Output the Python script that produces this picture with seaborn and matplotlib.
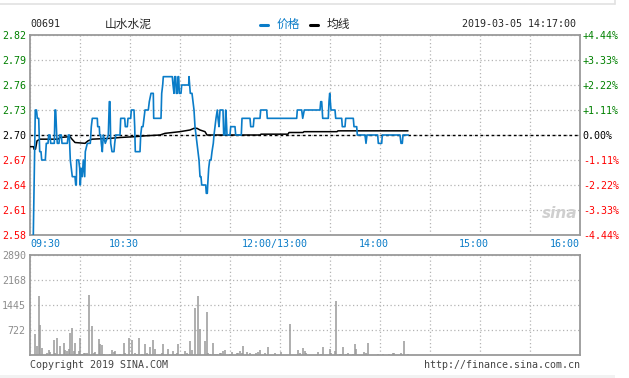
import seaborn as sns
import pandas as pd
import matplotlib.pyplot as plt
import numpy as np
from matplotlib.ticker import MultipleLocator
from matplotlib.lines import Line2D

# --- data (x = time slot, 550 slots across) ---
stock_code = "00691"
stock_name = "山水水泥"
stamp = "2019-03-05 14:17:00"
prev_close = 2.70
price_ticks = [2.58, 2.61, 2.64, 2.67, 2.70, 2.73, 2.76, 2.79, 2.82]
vol_ticks = [722, 1445, 2168, 2890]
time_labels = ["09:30", "10:30", "12:00/13:00", "14:00", "15:00", "16:00"]
time_label_pos = [0, 94, 245, 344, 444, 550]

price_t = [3.3, 5.3, 6.5, 7.3, 8.7, 9.7, 11.0, 11.7, 15.3, 16.3, 18.0, 18.7, 20.0, 20.7, 22.3,
           24.3, 25.0, 25.7, 26.7, 27.3, 29.0, 29.7, 31.3, 32.0, 37.3, 38.3, 39.3, 40.3, 41.3,
           42.3, 45.0, 45.7, 46.3, 46.7, 48.7, 49.7, 50.3, 51.3, 52.3, 53.3, 54.7, 55.3, 57.3,
           60.3, 61.3, 62.3, 67.3, 67.7, 69.3, 69.7, 70.7, 71.3, 72.3, 73.3, 75.3, 78.3, 79.3,
           80.0, 80.7, 82.0, 84.0, 84.7, 85.7, 90.0, 90.7, 94.7, 95.3, 97.3, 98.0, 100.7, 101.3,
           104.0, 104.7, 105.3, 110.0, 110.7, 111.7, 113.0, 114.0, 115.0, 118.3, 119.3, 121.0,
           123.3, 123.7, 131.0, 131.7, 132.7, 133.3, 142.3, 143.0, 144.0, 144.7, 145.7, 146.3,
           147.3, 148.0, 148.7, 149.3, 151.0, 151.7, 158.7, 159.0, 159.7, 160.3, 162.0, 163.0,
           164.0, 165.0, 166.0, 167.0, 168.0, 169.0, 170.0, 171.0, 171.7, 175.7, 176.3, 177.3,
           177.7, 178.7, 179.7, 181.0, 182.0, 183.3, 184.0, 185.0, 186.0, 187.3, 188.0, 189.0,
           190.0, 193.0, 193.7, 195.0, 195.7, 196.3, 197.0, 200.0, 200.7, 205.0, 205.7, 211.3,
           212.0, 220.0, 220.7, 223.3, 224.0, 230.0, 230.7, 236.7, 237.3, 266.7, 267.3, 271.7,
           272.7, 274.3, 290.0, 290.7, 291.7, 292.7, 298.3, 299.0, 299.7, 300.3, 301.0, 305.0,
           305.7, 311.7, 312.3, 315.0, 315.7, 323.3, 324.0, 326.7, 327.3, 335.0, 336.0, 337.0,
           347.7, 348.3, 351.7, 352.3, 370.0, 371.0, 372.3, 373.0, 378.3]
price_v = [2.58, 2.73, 2.73, 2.72, 2.72, 2.68, 2.68, 2.67, 2.67, 2.69, 2.69, 2.70, 2.70, 2.69, 2.69,
           2.69, 2.73, 2.73, 2.70, 2.69, 2.69, 2.70, 2.70, 2.69, 2.69, 2.70, 2.70, 2.67, 2.66,
           2.65, 2.65, 2.64, 2.64, 2.67, 2.67, 2.66, 2.64, 2.66, 2.65, 2.67, 2.65, 2.68, 2.69,
           2.69, 2.71, 2.72, 2.72, 2.71, 2.71, 2.70, 2.70, 2.69, 2.68, 2.70, 2.69, 2.70, 2.74,
           2.74, 2.69, 2.68, 2.68, 2.69, 2.70, 2.70, 2.72, 2.72, 2.71, 2.71, 2.72, 2.72, 2.73,
           2.73, 2.71, 2.68, 2.68, 2.70, 2.71, 2.71, 2.72, 2.73, 2.73, 2.74, 2.75,
           2.75, 2.72, 2.72, 2.75, 2.76, 2.77, 2.77, 2.76, 2.75, 2.77, 2.77, 2.75,
           2.75, 2.77, 2.77, 2.75, 2.75, 2.76, 2.76, 2.77, 2.76, 2.75, 2.75, 2.74,
           2.73, 2.71, 2.70, 2.69, 2.68, 2.67, 2.65, 2.65, 2.64, 2.64, 2.63, 2.63,
           2.64, 2.66, 2.67, 2.67, 2.68, 2.69, 2.70, 2.71, 2.72, 2.73, 2.72, 2.71,
           2.73, 2.73, 2.70, 2.70, 2.73, 2.72, 2.70, 2.70, 2.71, 2.71, 2.70, 2.70,
           2.72, 2.72, 2.71, 2.71, 2.72, 2.72, 2.73, 2.73, 2.72, 2.72, 2.73, 2.73,
           2.72, 2.73, 2.73, 2.74, 2.74, 2.72, 2.72, 2.74, 2.75, 2.74, 2.73, 2.73,
           2.72, 2.72, 2.71, 2.71, 2.72, 2.72, 2.71, 2.71, 2.70, 2.70, 2.69, 2.70,
           2.70, 2.69, 2.69, 2.70, 2.70, 2.69, 2.69, 2.70, 2.70]

avg_t = [0, 3.5, 4, 5.5, 7, 10, 28, 30, 40, 42, 45, 55, 58, 62, 80, 90, 105, 115, 130, 135,
         150, 160, 164, 167, 170, 175, 177, 230, 231, 258, 259, 273, 274, 307, 308, 378]
avg_v = [2.686, 2.686, 2.683, 2.683, 2.693, 2.695, 2.695, 2.697, 2.698, 2.695, 2.691, 2.690,
         2.693, 2.695, 2.696, 2.697, 2.698, 2.699, 2.700, 2.702, 2.704, 2.706, 2.708, 2.708,
         2.706, 2.704, 2.700, 2.700, 2.701, 2.701, 2.703, 2.703, 2.704, 2.704, 2.705, 2.705]

vol_t = [5.3, 7.3, 9.3, 10.3, 12.3, 17.3, 19.3, 20.3, 24.3, 25.3, 27.3, 30.3, 34.3, 35.3, 37.3,
         39.3, 40.3, 42.3, 44.3, 45.3, 47.3, 49.3, 50.3, 52.3, 54.3, 55.3, 57.3, 59.3, 62.3,
         64.3, 65.3, 69.3, 70.3, 72.3, 74.3, 80.3, 82.3, 84.3, 85.3, 90.3, 94.3, 95.3, 99.3,
         102.3, 105.3, 107.3, 109.3, 112.3, 115.3, 117.3, 120.3, 123.3, 125.3, 132.3, 133.3,
         138.3, 143.3, 145.3, 147.3, 148.3, 152.3, 155.3, 157.3, 158.3, 160.3, 162.3, 165.3,
         168.0, 170.3, 175.3, 177.3, 178.3, 180.3, 183.3, 185.3, 187.3, 190.3, 191.3, 193.3,
         195.3, 200.3, 202.3, 207.3, 208.3, 210.3, 212.3, 213.3, 217.3, 220.3, 226.3, 228.3,
         230.3, 235.3, 238.3, 245.3, 251.3, 260.3, 268.3, 270.3, 273.3, 275.3, 276.3, 288.3,
         291.3, 293.3, 300.3, 301.3, 305.3, 306.3, 310.3, 311.3, 313.3, 316.3, 318.3, 323.3,
         325.3, 326.3, 334.3, 336.3, 338.3, 348.3, 353.3, 359.3, 363.3, 364.3, 371.3, 374.3,
         378.3]
vol_v = [607, 260, 1705, 867, 202, 50, 145, 96, 434, 50, 491, 260, 347, 145, 116,
         173, 636, 780, 116, 347, 30, 116, 491, 30, 58, 58, 58, 1734, 838,
         58, 87, 462, 318, 289, 30, 30, 145, 87, 116, 30, 347, 58, 491,
         434, 58, 30, 491, 30, 318, 58, 231, 434, 173, 58, 318,
         173, 116, 30, 58, 318, 30, 116, 58, 30, 405, 145, 1358,
         1705, 751, 405, 1243, 58, 30, 347, 30, 30, 58, 58, 116,
         145, 30, 87, 58, 58, 116, 58, 260, 87, 58, 58, 87,
         145, 58, 231, 58, 87, 896, 145, 58, 202, 116, 58, 87,
         30, 231, 173, 58, 116, 1561, 30, 30, 231, 30, 58, 30,
         318, 173, 87, 58, 347, 30, 30, 30, 58, 58, 58, 405,
         30]

price_df = pd.DataFrame({"t": price_t, "price": price_v})
avg_df = pd.DataFrame({"t": avg_t, "avg": avg_v})

# colours
BLUE = "#0a7cc8"
GREEN = "#008000"
RED = "#ff0000"
FRAME = "#9a9a9a"
GRID = "#b4b4b4"
MONO = "DejaVu Sans Mono"
CJK = ["Noto Sans CJK SC", "DejaVu Sans"]
FS = 7.2

sns.set_style("white")
plt.rcParams["font.family"] = [MONO, "Noto Sans CJK SC"]

W, H = 629, 378
fig = plt.figure(figsize=(W / 100, H / 100), dpi=100)
ax = fig.add_axes([30 / W, 1 - 235 / H, 550 / W, 200 / H])
axv = fig.add_axes([30 / W, 1 - 355 / H, 550 / W, 100 / H])

grid_kw = dict(color=GRID, lw=0.9, linestyle=(0, (1, 2)))

# ---- price panel ----
for a in (ax, axv):
    a.set_xlim(0, 550)
    a.xaxis.set_major_locator(MultipleLocator(50))
    a.grid(True, **grid_kw)
    a.set_axisbelow(True)
    for s in a.spines.values():
        s.set_color(FRAME)
        s.set_linewidth(1.3)
    a.tick_params(length=0, labelbottom=False)

ax.set_ylim(price_ticks[0], price_ticks[-1])
ax.set_yticks(price_ticks)
ax.set_yticklabels([f"{p:.2f}" for p in price_ticks], fontsize=FS)
ax.tick_params(axis="y", pad=3)
for lab, p in zip(ax.get_yticklabels(), price_ticks):
    lab.set_color(GREEN if p > prev_close + 1e-9 else RED if p < prev_close - 1e-9 else "black")

ax.axhline(prev_close, color="black", lw=1.0, linestyle=(0, (2, 2)), zorder=2)
sns.lineplot(data=avg_df, x="t", y="avg", ax=ax, color="black", lw=1.1,
             sort=False, estimator=None, zorder=3)
sns.lineplot(data=price_df, x="t", y="price", ax=ax, color=BLUE, lw=1.2,
             sort=False, estimator=None, zorder=4)
ax.set_xlabel("")
ax.set_ylabel("")

axr = ax.twinx()
axr.set_ylim(ax.get_ylim())
axr.set_yticks(price_ticks)
pct = [(p - prev_close) / prev_close * 100 for p in price_ticks]
axr.set_yticklabels([f"{v:+.2f}%" if abs(v) > 1e-9 else "0.00%" for v in pct], fontsize=FS)
axr.tick_params(length=0, pad=2)
for lab, v in zip(axr.get_yticklabels(), pct):
    lab.set_color(GREEN if v > 1e-9 else RED if v < -1e-9 else "black")
for s in axr.spines.values():
    s.set_visible(False)

# time labels under the price panel
aligns = ["left", "center", "center", "center", "center", "right"]
for lbl, pos, ha in zip(time_labels, time_label_pos, aligns):
    ax.text(pos, -0.02, lbl, transform=ax.get_xaxis_transform(), ha=ha, va="top",
            color=BLUE, fontsize=FS, family=MONO)

# ---- volume panel ----
axv.set_ylim(0, vol_ticks[-1])
axv.set_yticks(vol_ticks)
axv.set_yticklabels([str(v) for v in vol_ticks], fontsize=FS, color="#8c8c8c")
axv.tick_params(axis="y", pad=3)
axv.vlines(vol_t, 0, vol_v, color="#999999", lw=1.1, zorder=3)

# ---- header ----
fig.text(30 / W, 1 - 24 / H, stock_code, fontsize=FS, family=MONO, va="center")
fig.text(128 / W, 1 - 24 / H, stock_name, fontsize=8.5, family=CJK, va="center", ha="center")
fig.add_artist(Line2D([260 / W, 268 / W], [1 - 25 / H] * 2, color=BLUE, lw=2.2))
fig.text(277 / W, 1 - 24 / H, "价格", fontsize=8.5, family=CJK, va="center", color=BLUE)
fig.add_artist(Line2D([310 / W, 318 / W], [1 - 25 / H] * 2, color="black", lw=2.2))
fig.text(327 / W, 1 - 24 / H, "均线", fontsize=8.5, family=CJK, va="center")
fig.text(576 / W, 1 - 24 / H, stamp, fontsize=FS, family=MONO, va="center", ha="right")

# sina watermark
fig.text(560 / W, 1 - 214 / H, "sina", fontsize=11, style="italic", weight="bold",
         family="DejaVu Sans", color="#cfcfcf", ha="center", va="center")

# ---- footer ----
fig.text(30 / W, 1 - 365 / H, "Copyright 2019 SINA.COM", fontsize=FS, family=MONO,
         color="#444444", va="center")
fig.text(580 / W, 1 - 365 / H, "http://finance.sina.com.cn", fontsize=FS, family=MONO,
         color="#444444", va="center", ha="right")

# outer frame fragments
fig.add_artist(Line2D([0, 615 / W], [1 - 4 / H] * 2, color="#e2e2e2", lw=1.2))
fig.add_artist(Line2D([615 / W] * 2, [1 - 4 / H, 1], color="#e2e2e2", lw=1.2))
fig.add_artist(plt.Rectangle((0, 0), 615 / W, 3 / H, transform=fig.transFigure,
                             color="#f2f2f2", lw=0))

fig.savefig("out.png", dpi=100)
